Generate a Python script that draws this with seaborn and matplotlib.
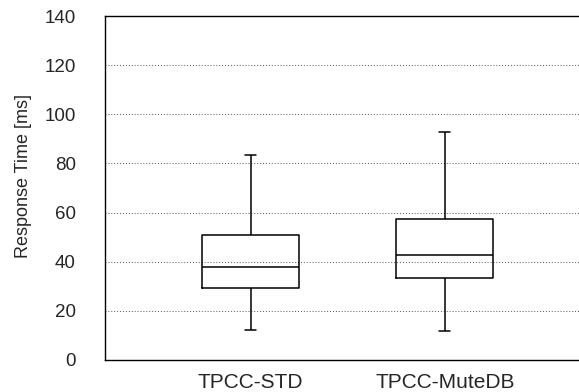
import matplotlib
matplotlib.use("Agg")
import matplotlib.pyplot as plt
import seaborn as sns
import pandas as pd
import numpy as np

categories = ["TPCC-STD", "TPCC-MuteDB"]
# five-number summaries: whisker low, Q1, median, Q3, whisker high
std_values = [12.3, 29.3, 37.7, 50.9, 83.6]
mutedb_values = [11.6, 33.5, 42.8, 57.2, 92.9]
yticks = [0, 20, 40, 60, 80, 100, 120, 140]

df = pd.DataFrame({
    "system": [categories[0]] * len(std_values) + [categories[1]] * len(mutedb_values),
    "rt": std_values + mutedb_values,
})

sns.set_style("white")
plt.rcParams["font.family"] = ["Liberation Sans", "DejaVu Sans"]

fig = plt.figure(figsize=(5.79, 3.92), dpi=100)
ax = fig.add_axes([105 / 579, 32 / 392, 1 - 105 / 579 + 0.01, 344 / 392])

sns.boxplot(data=df, x="system", y="rt", order=categories, whis=(0, 100),
            width=0.5, fill=False, color="black", linewidth=1.1,
            showfliers=False, ax=ax)

# shrink whisker caps
extremes = {round(e, 3) for e in (min(std_values), max(std_values),
                                  min(mutedb_values), max(mutedb_values))}
cap_half = 0.028
for ln in ax.lines:
    xd = np.asarray(ln.get_xdata(), dtype=float)
    yd = np.asarray(ln.get_ydata(), dtype=float)
    if len(xd) == 2 and yd[0] == yd[1] and xd[0] != xd[1] and round(float(yd[0]), 3) in extremes:
        c = xd.mean()
        ln.set_xdata([c - cap_half, c + cap_half])

ax.set_ylim(0, 140)
ax.set_xlim(-0.75, 1.72)
ax.set_yticks(yticks)
ax.set_yticklabels([str(v) for v in yticks], fontsize=13.5)
ax.tick_params(axis="x", labelsize=15, length=4, width=0.8, direction="in", pad=9)
ax.tick_params(axis="y", length=0, pad=21)
for v in yticks[1:-1]:
    ax.axhline(v, color="#555555", linestyle=(0, (1, 2)), linewidth=0.7, zorder=0)
ax.set_xlabel("")
ax.set_ylabel("Response Time [ms]", fontsize=13)
ax.yaxis.set_label_coords(-0.152, 0.535)
for s in ["left", "bottom", "top"]:
    ax.spines[s].set_visible(True)
    ax.spines[s].set_color("black")
    ax.spines[s].set_linewidth(1.0)
ax.spines["right"].set_visible(False)

fig.savefig("out.png", dpi=100)
